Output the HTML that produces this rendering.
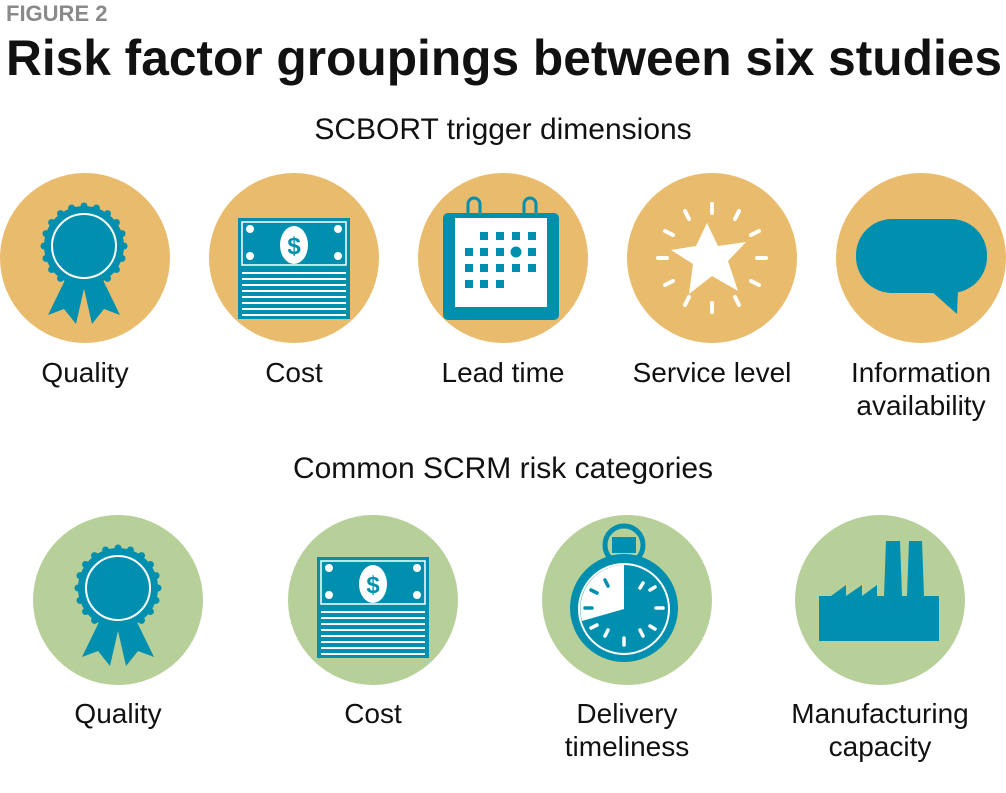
<!DOCTYPE html>
<html><head><meta charset="utf-8"><style>
html,body{margin:0;padding:0;background:#fff}
svg{display:block}
text{font-family:"Liberation Sans",Arial,sans-serif}
</style></head><body>
<svg width="1006" height="793" viewBox="0 0 1006 793" xmlns="http://www.w3.org/2000/svg">
<defs>
<g id="ribbon">
 <polygon points="-16,28 2,34 -8,78 -20,63 -36,69" fill="#008fae"/>
 <polygon points="16,28 -2,34 8,78 20,63 36,69" fill="#008fae"/>
 <circle r="40" fill="#008fae"/>
 <g fill="#008fae">
  <circle cx="0" cy="-40" r="3.5"/><circle cx="12.4" cy="-38" r="3.5"/><circle cx="23.5" cy="-32.4" r="3.5"/><circle cx="32.4" cy="-23.5" r="3.5"/><circle cx="38" cy="-12.4" r="3.5"/><circle cx="40" cy="0" r="3.5"/><circle cx="38" cy="12.4" r="3.5"/><circle cx="32.4" cy="23.5" r="3.5"/><circle cx="23.5" cy="32.4" r="3.5"/><circle cx="12.4" cy="38" r="3.5"/><circle cx="0" cy="40" r="3.5"/><circle cx="-12.4" cy="38" r="3.5"/><circle cx="-23.5" cy="32.4" r="3.5"/><circle cx="-32.4" cy="23.5" r="3.5"/><circle cx="-38" cy="12.4" r="3.5"/><circle cx="-40" cy="0" r="3.5"/><circle cx="-38" cy="-12.4" r="3.5"/><circle cx="-32.4" cy="-23.5" r="3.5"/><circle cx="-23.5" cy="-32.4" r="3.5"/><circle cx="-12.4" cy="-38" r="3.5"/>
 </g>
 <circle r="32" fill="none" stroke="#fff" stroke-width="2"/>
</g>
<g id="money">
 <rect x="0" y="0" width="112" height="101" fill="#008fae"/>
 <rect x="4" y="4" width="104" height="43" fill="none" stroke="#fff" stroke-width="1.5"/>
 <circle cx="12" cy="11" r="4" fill="#fff"/><circle cx="100" cy="11" r="4" fill="#fff"/>
 <circle cx="12" cy="38" r="4" fill="#fff"/><circle cx="100" cy="38" r="4" fill="#fff"/>
 <ellipse cx="56" cy="27" rx="14" ry="19" fill="#fff"/>
 <text x="56" y="36" font-size="24" font-weight="bold" fill="#008fae" text-anchor="middle">$</text>
 <g fill="#fff">
  <rect x="4" y="54" width="104" height="2"/><rect x="4" y="60" width="104" height="2"/><rect x="4" y="66" width="104" height="2"/><rect x="4" y="72" width="104" height="2"/><rect x="4" y="78" width="104" height="2"/><rect x="4" y="84" width="104" height="2"/><rect x="4" y="90" width="104" height="2"/><rect x="4" y="96" width="104" height="2"/>
 </g>
</g>
</defs>

<text x="6" y="21" font-size="22" font-weight="bold" fill="#8a8a8a">FIGURE 2</text>
<text x="6" y="75" font-size="50" font-weight="bold" fill="#111" textLength="996" lengthAdjust="spacingAndGlyphs">Risk factor groupings between six studies</text>
<text x="503" y="139" font-size="30" fill="#111" text-anchor="middle">SCBORT trigger dimensions</text>

<g fill="#e9bc6d">
 <circle cx="85" cy="258" r="85"/><circle cx="294" cy="258" r="85"/><circle cx="503" cy="258" r="85"/><circle cx="712" cy="258" r="85"/><circle cx="921" cy="258" r="85"/>
</g>
<use href="#ribbon" x="84" y="246"/>
<use href="#money" x="238" y="218"/>
<!-- calendar -->
<rect x="443" y="213" width="116" height="107" rx="5" fill="#008fae"/>
<rect x="455" y="218" width="92" height="89" fill="#fff"/>
<path d="M468,214 v-10 a6,6 0 0 1 12,0 v10 M524,214 v-10 a6,6 0 0 1 12,0 v10" fill="none" stroke="#008fae" stroke-width="3"/>
<g fill="#008fae">
 <rect x="480" y="232" width="8" height="8"/><rect x="496" y="232" width="8" height="8"/><rect x="512" y="232" width="8" height="8"/><rect x="528" y="232" width="8" height="8"/>
 <rect x="465" y="248" width="8" height="8"/><rect x="480" y="248" width="8" height="8"/><rect x="496" y="248" width="8" height="8"/><circle cx="516" cy="252" r="5.5"/><rect x="528" y="248" width="8" height="8"/>
 <rect x="465" y="264" width="8" height="8"/><rect x="480" y="264" width="8" height="8"/><rect x="496" y="264" width="8" height="8"/><rect x="512" y="264" width="8" height="8"/><rect x="528" y="264" width="8" height="8"/>
 <rect x="465" y="280" width="8" height="8"/><rect x="480" y="280" width="8" height="8"/><rect x="496" y="280" width="8" height="8"/>
</g>
<!-- star -->
<g transform="translate(712,258)">
 <polygon points="-5,-35 6,-12 34,-16 16,3 26,33 0,18 -23,36 -19,6 -41,-8 -16,-12" fill="#fff"/>
 <g stroke="#fff" stroke-width="4" stroke-linecap="round">
  <line x1="0" y1="-54" x2="0" y2="-45"/><line x1="0" y1="45" x2="0" y2="54"/>
  <line x1="-54" y1="0" x2="-45" y2="0"/><line x1="45" y1="0" x2="54" y2="0"/>
  <line x1="-27" y1="-47" x2="-23" y2="-39"/><line x1="27" y1="-47" x2="23" y2="-39"/>
  <line x1="-27" y1="47" x2="-23" y2="39"/><line x1="27" y1="47" x2="23" y2="39"/>
  <line x1="-47" y1="-27" x2="-39" y2="-23"/><line x1="47" y1="-27" x2="39" y2="-23"/>
  <line x1="-47" y1="27" x2="-39" y2="23"/><line x1="47" y1="27" x2="39" y2="23"/>
 </g>
</g>
<!-- bubble -->
<rect x="856" y="219" width="131" height="74" rx="36" fill="#008fae"/>
<polygon points="930,290 958,290 957,314" fill="#008fae"/>

<g font-size="28" fill="#111" text-anchor="middle">
 <text x="85" y="382">Quality</text>
 <text x="294" y="382">Cost</text>
 <text x="503" y="382">Lead time</text>
 <text x="712" y="382">Service level</text>
 <text x="921" y="382">Information</text>
 <text x="921" y="415">availability</text>
</g>

<text x="503" y="478" font-size="30" fill="#111" text-anchor="middle">Common SCRM risk categories</text>

<g fill="#b7cf98">
 <circle cx="118" cy="600" r="85"/><circle cx="373" cy="600" r="85"/><circle cx="627" cy="600" r="85"/><circle cx="880" cy="600" r="85"/>
</g>
<use href="#ribbon" x="118" y="588"/>
<use href="#money" x="317" y="557"/>
<!-- stopwatch -->
<circle cx="624" cy="545" r="19" fill="none" stroke="#008fae" stroke-width="5"/>
<rect x="612" y="537" width="24" height="16" fill="#008fae"/>
<circle cx="624" cy="608" r="54" fill="#008fae"/>
<circle cx="624" cy="609" r="46" fill="#fff"/>
<circle cx="624" cy="609" r="44" fill="#008fae"/>
<path d="M624,609 L624,565 A44,44 0 0 0 582,621 Z" fill="#fff"/>
<g stroke="#fff" stroke-width="3.5" stroke-linecap="round">
 <line x1="643" y1="583" x2="640" y2="588"/><line x1="650" y1="590" x2="655" y2="587"/>
 <line x1="656" y1="608" x2="663" y2="608"/><line x1="650" y1="626" x2="655" y2="629"/>
 <line x1="640" y1="630" x2="643" y2="636"/><line x1="624" y1="638" x2="624" y2="645"/>
 <line x1="608" y1="630" x2="605" y2="636"/><line x1="597" y1="625" x2="591" y2="628"/>
</g>
<g stroke="#008fae" stroke-width="3.5" stroke-linecap="round">
 <line x1="605" y1="580" x2="608" y2="586"/><line x1="591" y1="590" x2="597" y2="593"/><line x1="585" y1="608" x2="592" y2="608"/>
</g>
<!-- factory -->
<g fill="#008fae">
 <polygon points="819,641 819,596 831,596 846,585 846,596 862,585 862,596 877,585 877,596 884,596 886,541 900,541 902,596 907,596 909,541 922,541 924,596 939,596 939,641"/>
</g>

<g font-size="28" fill="#111" text-anchor="middle">
 <text x="118" y="723">Quality</text>
 <text x="373" y="723">Cost</text>
 <text x="627" y="723">Delivery</text>
 <text x="627" y="756">timeliness</text>
 <text x="880" y="723">Manufacturing</text>
 <text x="880" y="756">capacity</text>
</g>
</svg>
</body></html>
